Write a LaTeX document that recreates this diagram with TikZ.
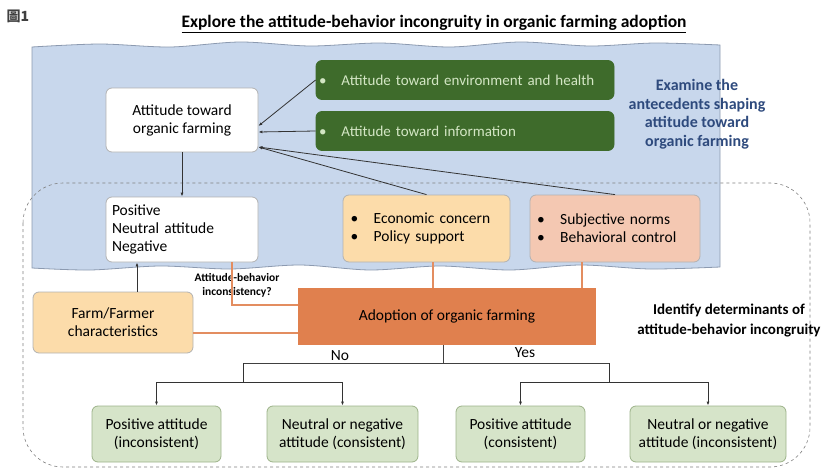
\documentclass[tikz,border=0pt]{standalone}
\usepackage{fontspec}
\setmainfont{Carlito}
\newfontfamily\cjk{Noto Sans CJK TC}
\usetikzlibrary{arrows.meta}

\definecolor{skyfill}{HTML}{C8D7EC}
\definecolor{skyline}{HTML}{8C9AB0}
\definecolor{leaf}{HTML}{3E6B2B}
\definecolor{leaftext}{HTML}{D3E6C4}
\definecolor{peach}{HTML}{FCDCAA}
\definecolor{salmon}{HTML}{F4C8B2}
\definecolor{adopt}{HTML}{E0804E}
\definecolor{sage}{HTML}{D6E4C9}
\definecolor{sageline}{HTML}{9DB38A}
\definecolor{navy}{HTML}{2E4A7D}

\begin{document}
\begin{tikzpicture}[x=1pt,y=-1pt,font=\fontsize{15.5}{18}\selectfont,
    box/.style={draw=gray!60,rounded corners=6pt,align=center,line width=0.8pt,inner sep=2pt},
    whitebox/.style={box,fill=white},
    leafbox/.style={box,draw=leaf,fill=leaf,text=leaftext,align=left,
      font=\fontsize{15}{17}\selectfont,text width=292pt,minimum width=298,minimum height=39},
    sagebox/.style={box,draw=sageline,fill=sage,minimum height=56},
    arr/.style={-{Latex[length=4pt,width=3pt]},line width=0.8pt,draw=black!80},
    oline/.style={line width=2pt,draw=adopt!90},
    tline/.style={line width=1pt,draw=black!75}]
  \useasboundingbox (0,0) rectangle (828,471);

  % upper part: antecedents
  \fill[skyfill,draw=skyline,line width=0.8pt]
    plot[smooth] coordinates {(32,47) (100,44) (170,47) (240,42) (310,46)
      (380,43) (450,47) (520,42) (590,46) (655,43) (720,45)}
    -- (720,267)
    -- plot[smooth] coordinates {(720,267) (650,269) (580,265) (510,270)
      (440,266) (370,270) (300,265) (230,269) (160,266) (90,270) (32,268)}
    -- cycle;
  % lower part: determinants
  \draw[dashed,gray,line width=0.6pt,rounded corners=40pt]
    (23,183) rectangle (810,467);

  \node[font=\cjk\bfseries\fontsize{14}{16}\selectfont,text=black!75] (fig) at (18,16) {圖1};
  \node[font=\bfseries\fontsize{17.5}{20}\selectfont] (title) at (434,24)
    {\underline{Explore the attitude-behavior incongruity in organic farming adoption}};

  \node[whitebox,minimum width=152,minimum height=64] (att) at (182,120)
    {Attitude toward\\organic farming};
  \node[leafbox] (env) at (465,80) {\textbullet\quad Attitude toward environment and health};
  \node[leafbox] (info) at (465,131) {\textbullet\quad Attitude toward information};
  \node[font=\bfseries\fontsize{16}{18.5}\selectfont,text=navy,align=center] (exam) at (697,114)
    {Examine the\\antecedents shaping\\attitude toward\\organic farming};

  \node[whitebox,align=left,text width=140pt,minimum width=152,minimum height=65] (pos)
    at (182,229.5) {Positive\\Neutral attitude\\Negative};
  \node[box,fill=peach,align=left,text width=152pt,minimum width=167,minimum height=67] (econ)
    at (426.5,228.5) {\textbullet\quad Economic concern\\\textbullet\quad Policy support};
  \node[box,fill=salmon,align=left,text width=156pt,minimum width=170,minimum height=67] (subj)
    at (615,228.5) {\textbullet\quad Subjective norms\\\textbullet\quad Behavioral control};

  \node[fill=adopt,minimum width=298,minimum height=57] (adoption) at (447,316.5)
    {Adoption of organic farming};
  \node[box,fill=peach,minimum width=160,minimum height=61] (farm) at (113,322.5)
    {Farm/Farmer\\characteristics};
  \node[font=\bfseries\fontsize{11.5}{14}\selectfont,align=center] (incons) at (237,285)
    {Attitude-behavior\\inconsistency?};
  \node[font=\bfseries\fontsize{15}{20}\selectfont,align=center] (ident) at (729,320)
    {Identify determinants of\\attitude-behavior incongruity};

  \node[sagebox,minimum width=129] (b1) at (156.5,434) {Positive attitude\\(inconsistent)};
  \node[sagebox,minimum width=151] (b2) at (342.5,434) {Neutral or negative\\attitude (consistent)};
  \node[sagebox,minimum width=129] (b3) at (520.5,434) {Positive attitude\\(consistent)};
  \node[sagebox,minimum width=156] (b4) at (708,434) {Neutral or negative\\attitude (inconsistent)};
  \node (no) at (340,356) {No};
  \node (yes) at (525,353) {Yes};

  % antecedents
  \draw[arr] (env.west) -- ([yshift=-6pt]att.east);
  \draw[arr] (info.west) -- ([yshift=-12pt]att.east);
  \draw[arr] (econ.north) -- ([yshift=-27pt]att.east);
  \draw[arr] (subj.north) -- ([yshift=-27pt]att.east);
  \draw[arr] (att.south) -- (pos.north);
  \draw[arr] ([xshift=24pt]farm.north) -- ([xshift=24pt]farm.north |- pos.south);

  % links to adoption
  \draw[oline] ([xshift=50pt]pos.south) |- ([yshift=11.5pt]adoption.west);
  \draw[oline] ([yshift=-10pt]farm.east) -- ([yshift=-10pt]farm.east -| adoption.west);
  \draw[oline] ([xshift=6pt]econ.south) -- ([xshift=6pt]econ.south |- adoption.north);
  \draw[oline] ([xshift=-33pt]subj.south) -- ([xshift=-33pt]subj.south |- adoption.north);

  % outcome tree
  \coordinate (nosplit) at (243,363);
  \coordinate (yessplit) at (609,363);
  \draw[tline] ([xshift=-4pt]adoption.south) -- ([xshift=-4pt]adoption.south |- nosplit);
  \draw[tline] (nosplit) -- (yessplit);
  \draw[arr,line width=1pt] (nosplit) -- ++(0,19) -| (b1.north);
  \draw[arr,line width=1pt] (nosplit) ++(0,19) -| (b2.north);
  \draw[arr,line width=1pt] (yessplit) -- ++(0,19) -| (b3.north);
  \draw[arr,line width=1pt] (yessplit) ++(0,19) -| (b4.north);
\end{tikzpicture}
\end{document}
